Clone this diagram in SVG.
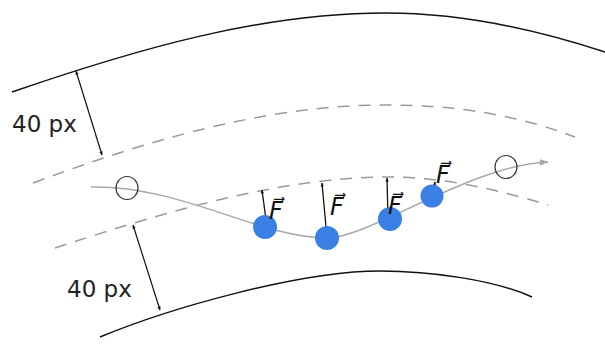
<svg xmlns="http://www.w3.org/2000/svg" width="605" height="345" viewBox="0 0 605 345">
<style>
.outer{fill:none;stroke:#111;stroke-width:1.5}
.dash{fill:none;stroke:#9a9a9a;stroke-width:1.5;stroke-dasharray:12 9}
.path{fill:none;stroke:#a8a8a8;stroke-width:1.5}
.dim{stroke:#111;stroke-width:1.2}
.ring{fill:none;stroke:#333;stroke-width:1.2}
.ball{fill:#3a80e4}
.force{stroke:#111;stroke-width:1.3}
.lbl{font-family:"DejaVu Sans",sans-serif;font-size:23px;fill:#222}
.f{font-family:"DejaVu Sans",sans-serif;font-size:24px;font-style:italic;fill:#111}
</style>
<defs>
<marker id="ah" viewBox="0 0 10 10" refX="9" refY="5" markerWidth="4" markerHeight="4" orient="auto-start-reverse" markerUnits="userSpaceOnUse">
<path d="M0,1 L10,5 L0,9 z" fill="#111"/>
</marker>
<marker id="gah" viewBox="0 0 10 10" refX="9" refY="5" markerWidth="9" markerHeight="9" orient="auto" markerUnits="userSpaceOnUse">
<path d="M0,1.5 L10,5 L0,8.5 z" fill="#a8a8a8"/>
</marker>
</defs>
<g id="track">
<path class="outer" d="M12,92 C137,49 261,13 386,13 C459,13 532,28 605,52"/>
<path class="outer" d="M100,337 C170,308 300,271 380,271 C430,271 495,280 532,297"/>
<path class="dash" d="M33,183 C151,139 268,105 386,105 C449,105 512,113 575,137"/>
<path class="dash" d="M55,248 C165,212 280,177 390,177 C443,177 500,190 548,205"/>
</g>
<g id="connectors">
<path class="path" d="M91,187 C180,185 260,238 327,238 C370,238 470,165 548,162" marker-end="url(#gah)"/>
<line class="dim" x1="76" y1="71" x2="102" y2="155" marker-start="url(#ah)" marker-end="url(#ah)"/>
<line class="dim" x1="160" y1="310" x2="133" y2="225" marker-start="url(#ah)" marker-end="url(#ah)"/>
<line class="force" x1="267" y1="227" x2="262" y2="190" marker-end="url(#ah)"/>
<line class="force" x1="327" y1="238" x2="322" y2="183" marker-end="url(#ah)"/>
<line class="force" x1="388" y1="219" x2="387" y2="178" marker-end="url(#ah)"/>
<line class="force" x1="433" y1="196" x2="435" y2="182" marker-end="url(#ah)"/>
</g>
<g id="label-top"><text class="lbl" x="12" y="132">40 px</text></g>
<g id="label-bottom"><text class="lbl" x="67" y="297">40 px</text></g>
<g id="start-ring"><ellipse class="ring" cx="127" cy="188" rx="11" ry="11.5"/></g>
<g id="end-ring"><ellipse class="ring" cx="506" cy="167" rx="11" ry="11.5"/></g>
<g id="ball1"><circle class="ball" cx="265" cy="227" r="12"/><text class="f" x="269" y="219">F⃗</text></g>
<g id="ball2"><circle class="ball" cx="327" cy="238" r="12"/><text class="f" x="330" y="215">F⃗</text></g>
<g id="ball3"><circle class="ball" cx="390" cy="219" r="12"/><text class="f" x="388" y="214">F⃗</text></g>
<g id="ball4"><circle class="ball" cx="432" cy="196" r="11.5"/><text class="f" x="436" y="183">F⃗</text></g>
</svg>
